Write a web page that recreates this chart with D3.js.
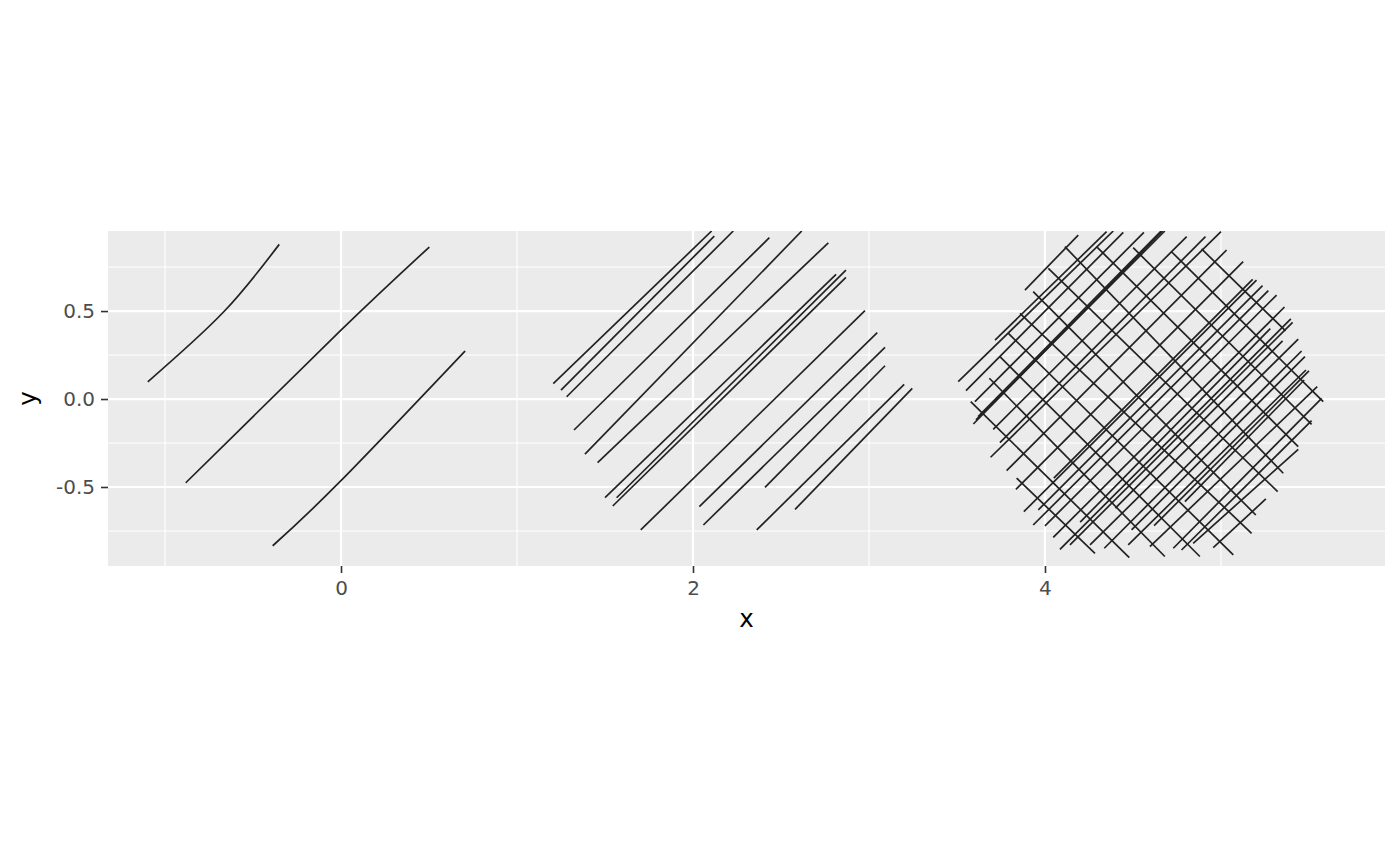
<!DOCTYPE html>
<html>
<head>
<meta charset="utf-8">
<script src="https://cdn.jsdelivr.net/npm/d3@7"></script>
<style>
  html, body { margin: 0; padding: 0; background: #ffffff; }
  svg { display: block; font-family: "DejaVu Sans", "Liberation Sans", sans-serif; }
</style>
</head>
<body>
<svg id="chart" width="1400" height="866"></svg>
<script>
// ---------------- data (data units) ----------------
const xTicks = [0, 2, 4];
const xTickLabels = ["0", "2", "4"];
const xMinor = [-1, 1, 3, 5];
const yTicks = [-0.5, 0, 0.5];
const yTickLabels = ["-0.5", "0.0", "0.5"];
const yMinor = [-0.75, -0.25, 0.25, 0.75];
const xDomain = [-1.324, 5.932];
const yDomain = [-0.949, 0.955];

// group around x = 0 : three slightly curved strokes [x, y] points
const group1Paths = [
  [[-1.098, 0.098], [-0.669, 0.493], [-0.351, 0.879]],
  [[-0.882, -0.476], [-0.006, 0.386], [0.502, 0.864]],
  [[-0.388, -0.834], [-0.006, -0.470], [0.705, 0.273]]
];

// group around x = 2 : single hatching [x0, y0, x1, y1]
const group2Segments = [
  [1.206, 0.087, 2.106, 0.955],
  [1.250, 0.051, 2.121, 0.926],
  [1.282, 0.013, 2.229, 0.955],
  [1.324, -0.176, 2.434, 0.917],
  [1.386, -0.313, 2.618, 0.955],
  [1.458, -0.362, 2.769, 0.888],
  [1.500, -0.561, 2.813, 0.708],
  [1.566, -0.561, 2.869, 0.733],
  [1.544, -0.608, 2.869, 0.691],
  [1.703, -0.744, 2.977, 0.502],
  [2.036, -0.612, 3.047, 0.377],
  [2.059, -0.716, 3.091, 0.294],
  [2.409, -0.502, 3.091, 0.189],
  [2.362, -0.744, 3.200, 0.083],
  [2.580, -0.627, 3.246, 0.061]
];

// group around x = 4.5 : cross hatching, rising strokes
const group3Rising = [
  [3.886, 0.619, 4.189, 0.932],
  [3.716, 0.335, 4.350, 0.951],
  [3.507, 0.099, 4.388, 0.955],
  [3.551, 0.048, 4.445, 0.947],
  [3.602, -0.015, 4.562, 0.947],
  [3.608, -0.119, 4.681, 0.955],
  [3.593, -0.142, 4.668, 0.955],
  [3.620, -0.100, 4.660, 0.955],
  [3.706, -0.172, 4.805, 0.923],
  [3.744, -0.248, 4.912, 0.923],
  [3.691, -0.331, 5.000, 0.951],
  [3.782, -0.407, 5.032, 0.847],
  [3.835, -0.513, 5.126, 0.781],
  [4.050, -0.450, 5.180, 0.680],
  [3.880, -0.640, 5.202, 0.676],
  [3.962, -0.630, 5.236, 0.644],
  [3.933, -0.716, 5.269, 0.616],
  [4.000, -0.721, 5.316, 0.591],
  [4.047, -0.786, 5.361, 0.523],
  [4.085, -0.854, 5.397, 0.455],
  [4.200, -0.700, 5.280, 0.400],
  [4.142, -0.829, 5.407, 0.436],
  [4.256, -0.829, 5.439, 0.341],
  [4.400, -0.620, 5.350, 0.330],
  [4.337, -0.848, 5.458, 0.273],
  [4.492, -0.744, 5.477, 0.241],
  [4.473, -0.829, 5.483, 0.165],
  [4.620, -0.720, 5.500, 0.160],
  [4.795, -0.583, 5.473, 0.108],
  [4.596, -0.839, 5.547, 0.070],
  [4.729, -0.848, 5.572, 0.004],
  [4.776, -0.858, 5.515, -0.123],
  [4.842, -0.820, 5.439, -0.286],
  [4.956, -0.845, 5.255, -0.568]
];

// group around x = 4.5 : cross hatching, falling strokes
const group3Falling = [
  [4.113, 0.866, 5.354, -0.422],
  [4.293, 0.866, 5.439, -0.270],
  [4.501, 0.860, 5.515, -0.144],
  [4.719, 0.837, 5.581, -0.015],
  [4.890, 0.853, 5.367, 0.387],
  [4.019, 0.743, 5.322, -0.526],
  [3.933, 0.610, 5.198, -0.659],
  [3.858, 0.487, 5.174, -0.763],
  [3.792, 0.373, 5.070, -0.886],
  [3.744, 0.241, 4.880, -0.895],
  [3.684, 0.118, 4.681, -0.895],
  [3.578, -0.015, 4.479, -0.901],
  [3.839, -0.450, 4.284, -0.877]
];

// ---------------- chart ----------------
const svg = d3.select("#chart");
const panel = { left: 108, right: 1385, top: 231, bottom: 566 };

const x = d3.scaleLinear().domain(xDomain).range([panel.left, panel.right]);
const y = d3.scaleLinear().domain(yDomain).range([panel.bottom, panel.top]);

svg.append("rect")
  .attr("x", panel.left).attr("y", panel.top)
  .attr("width", panel.right - panel.left).attr("height", panel.bottom - panel.top)
  .attr("fill", "#EBEBEB");

const grid = svg.append("g");
grid.selectAll(".xminor").data(xMinor).join("line")
  .attr("x1", d => x(d)).attr("x2", d => x(d))
  .attr("y1", panel.top).attr("y2", panel.bottom)
  .attr("stroke", "#ffffff").attr("stroke-width", 1.1);
grid.selectAll(".yminor").data(yMinor).join("line")
  .attr("y1", d => y(d)).attr("y2", d => y(d))
  .attr("x1", panel.left).attr("x2", panel.right)
  .attr("stroke", "#ffffff").attr("stroke-width", 1.1);
grid.selectAll(".xmajor").data(xTicks).join("line")
  .attr("x1", d => x(d)).attr("x2", d => x(d))
  .attr("y1", panel.top).attr("y2", panel.bottom)
  .attr("stroke", "#ffffff").attr("stroke-width", 2.2);
grid.selectAll(".ymajor").data(yTicks).join("line")
  .attr("y1", d => y(d)).attr("y2", d => y(d))
  .attr("x1", panel.left).attr("x2", panel.right)
  .attr("stroke", "#ffffff").attr("stroke-width", 2.2);

svg.append("clipPath").attr("id", "panelClip")
  .append("rect")
  .attr("x", panel.left).attr("y", panel.top)
  .attr("width", panel.right - panel.left).attr("height", panel.bottom - panel.top);

const marks = svg.append("g").attr("clip-path", "url(#panelClip)");
const lineColor = "#222222";
const lineW = 1.7;

const curveGen = d3.line().x(d => x(d[0])).y(d => y(d[1])).curve(d3.curveNatural);
marks.selectAll(".g1").data(group1Paths).join("path")
  .attr("d", d => curveGen(d))
  .attr("fill", "none").attr("stroke", lineColor).attr("stroke-width", lineW);

const segs = [...group2Segments, ...group3Rising, ...group3Falling];
marks.selectAll(".seg").data(segs).join("line")
  .attr("x1", d => x(d[0])).attr("y1", d => y(d[1]))
  .attr("x2", d => x(d[2])).attr("y2", d => y(d[3]))
  .attr("stroke", lineColor).attr("stroke-width", lineW);

// axes
const xAxis = d3.axisBottom(x).tickValues(xTicks)
  .tickFormat((d, i) => xTickLabels[i]).tickSize(7).tickPadding(8);
const gx = svg.append("g").attr("transform", `translate(0,${panel.bottom})`).call(xAxis);
gx.select(".domain").remove();
gx.selectAll(".tick line").attr("stroke", "#333333").attr("stroke-width", 1.6);
gx.selectAll(".tick text").attr("fill", "#4D4D4D").attr("font-size", 20)
  .attr("font-family", "DejaVu Sans, sans-serif");

const yAxis = d3.axisLeft(y).tickValues(yTicks)
  .tickFormat((d, i) => yTickLabels[i]).tickSize(7).tickPadding(6);
const gy = svg.append("g").attr("transform", `translate(${panel.left},0)`).call(yAxis);
gy.select(".domain").remove();
gy.selectAll(".tick line").attr("stroke", "#333333").attr("stroke-width", 1.6);
gy.selectAll(".tick text").attr("fill", "#4D4D4D").attr("font-size", 20)
  .attr("font-family", "DejaVu Sans, sans-serif");

svg.append("text").attr("x", (panel.left + panel.right) / 2).attr("y", 627)
  .attr("text-anchor", "middle").attr("font-size", 24.5).attr("fill", "#000000")
  .text("x");
svg.append("text")
  .attr("transform", `translate(36,${(panel.top + panel.bottom) / 2}) rotate(-90)`)
  .attr("text-anchor", "middle").attr("font-size", 24.5).attr("fill", "#000000")
  .text("y");
</script>
</body>
</html>
